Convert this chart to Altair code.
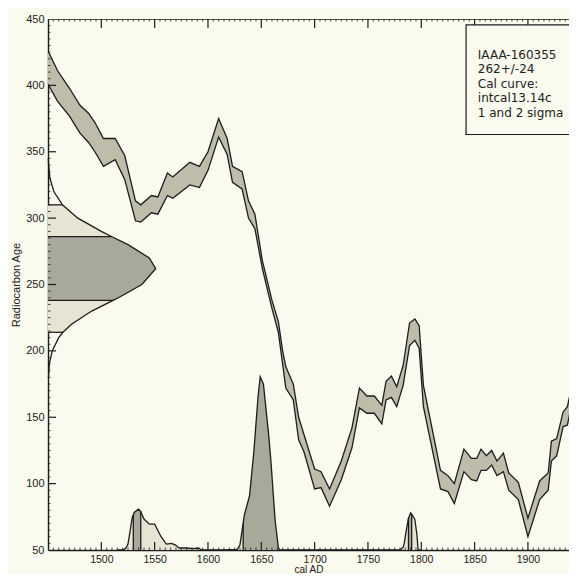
import altair as alt
import pandas as pd

# ---- calibration curve (intcal13 band) ----
cal_year  = [1450,1459,1470,1480,1488,1494,1502,1513,1522,1532,1537,1547,1553,1562,1567,1583,1592,1600,1610,1618,
             1623,1632,1638,1644,1651,1660,1666,1670,1673,1680,1685,1690,1700,1706,1714,1725,1735,1742,1749,1756,
             1763,1767,1772,1777,1783,1789,1794,1798,1802,1818,1825,1831,1840,1847,1852,1856,1861,1866,1871,1877,
             1882,1891,1900,1911,1919,1922,1927,1933,1937,1946]
cal_upper = [426,411,398,385,379,372,360,360,347,313,310,317,316,334,331,342,339,350,375,360,
             339,335,313,303,268,238,222,200,188,175,150,137,111,109,96,117,142,172,166,166,
             159,177,181,173,189,221,224,219,174,110,106,100,126,119,119,126,121,125,117,123,
             108,101,74,102,108,132,134,154,158,192]
cal_lower = [401,388,377,364,357,350,339,344,329,298,297,304,303,317,315,325,323,336,361,348,
             327,322,300,292,262,232,214,190,172,163,133,124,96,97,83,103,127,157,153,153,
             145,163,165,158,174,204,208,202,158,96,94,85,109,103,102,110,110,114,106,109,
             95,88,60,88,95,117,121,143,144,180]

g_age   = [345, 340, 330, 320, 310, 300, 290, 286, 280, 270, 262, 250, 240, 238, 230, 220, 214, 210, 200, 190, 180]
g_width = [0.3, 0.6, 1.8, 5.5, 13.5, 28, 50, 60, 75, 95, 101, 88, 66, 61, 41, 22, 14, 10, 4, 1.2, 0.4]
sig1_age = [238, 286]
sig2_age = [214, 310]

# ---- calibrated date probability ----
p_year = [1515,1521,1523,1525,1529,1530,1531,1535,1537,1540,1545,1550,1556,1561,1566,1570,1572,1573,1580,1586,
          1591,1594,1617,1627,1628,1630,1633,1634,1639,1643,1647,1649,1652,1657,1659,1663,1666,1667,1780,1783,
          1784,1786,1788,1790,1791,1794,1796,1797,1800]
p_top  = [50,50.3,51.5,54.5,74.6,76.5,78.5,80.8,79,73.3,69.5,69.5,60,54.5,55,53.5,52,51.5,51.5,51,
          51.5,50,50,50.5,51,54,70,76,91,124,166,180.5,175,136,117,72,52,50,50,52,
          55,65,74,78,77,73,61,50,50]
one_sigma = [(1530, 1537), (1633, 1667), (1788, 1791)]
two_sigma = [(1523, 1572), (1628, 1667), (1784, 1797)]

x_ticks = [1500, 1550, 1600, 1650, 1700, 1750, 1800, 1850, 1900]
y_ticks = [50, 100, 150, 200, 250, 300, 350, 400, 450]
info_lines = ["IAAA-160355", "262+/-24", "Cal curve:", "intcal13.14c", "1 and 2 sigma"]

W, H = 521, 531
X0, X1 = 1450, 1450 + W / 1.0665
Y0, Y1 = 50, 450
INK = "#1c1c1c"
BG = "#fbfaee"
FONT = "Liberation Sans"

xs = alt.Scale(domain=[X0, X1], nice=False, zero=False)
ys = alt.Scale(domain=[Y0, Y1], nice=False, zero=False)
xax = alt.Axis(values=x_ticks, format="d", title="cal AD", ticks=False, grid=False,
               labelPadding=4, titlePadding=0, domainColor=INK, domainWidth=1.4,
               labelFont=FONT, labelFontSize=10.5, labelColor="#222",
               titleFont=FONT, titleFontSize=10, titleFontWeight="normal", titleColor="#222")
yax = alt.Axis(values=y_ticks, format="d", title="Radiocarbon Age", ticks=False, grid=False,
               labelPadding=4, titlePadding=4, domainColor=INK, domainWidth=1.4,
               labelFont=FONT, labelFontSize=11, labelColor="#222",
               titleFont=FONT, titleFontSize=11, titleFontWeight="normal", titleColor="#222")


def X(f="year"):
    return alt.X(f"{f}:Q", scale=xs, axis=xax)


def Y(f="age"):
    return alt.Y(f"{f}:Q", scale=ys, axis=yax)


# calibration band
cal = pd.DataFrame({"year": cal_year, "age": cal_lower, "age2": cal_upper})
band = alt.Chart(cal).mark_area(color="#bebdac", opacity=1, clip=True).encode(x=X(), y=Y(), y2="age2:Q")
up_line = alt.Chart(cal).mark_line(color=INK, strokeWidth=1.3, clip=True).encode(x=X(), y=Y("age2"))
lo_line = alt.Chart(cal).mark_line(color=INK, strokeWidth=1.3, clip=True).encode(x=X(), y=Y())

# measured gaussian on the left
g = pd.DataFrame({"age": g_age, "year": [X0 + w for w in g_width]})
g2 = g[(g.age >= sig2_age[0]) & (g.age <= sig2_age[1])]
g1 = g[(g.age >= sig1_age[0]) & (g.age <= sig1_age[1])]
g_light = alt.Chart(g2).mark_area(orient="horizontal", color="#e8e4d4").encode(
    y=Y(), x=X(), x2=alt.datum(X0))
g_dark = alt.Chart(g1).mark_area(orient="horizontal", color="#a9a99b").encode(
    y=Y(), x=X(), x2=alt.datum(X0))
g_line = alt.Chart(g).mark_line(color=INK, strokeWidth=1.3).encode(
    y=Y(), x=X(), order=alt.Order("age:Q"))
gb = g[g.age.isin(sig1_age + sig2_age)].copy()
gb["x0"] = X0
g_rules = alt.Chart(gb).mark_rule(color=INK, strokeWidth=1.3).encode(
    y=Y(), x=X("x0"), x2="year:Q")

# calibrated probability at bottom
p = pd.DataFrame({"year": p_year, "age": p_top})


def segs(ranges):
    parts = []
    for i, (a, b) in enumerate(ranges):
        s = p[(p.year >= a) & (p.year <= b)].copy()
        s["seg"] = i
        parts.append(s)
    return pd.concat(parts)


p2 = segs(two_sigma)
p1 = segs(one_sigma)
p_light = alt.Chart(p2).mark_area(color="#e8e4d4").encode(
    x=X(), y=Y(), y2=alt.datum(Y0), detail="seg:N")
p_dark = alt.Chart(p1).mark_area(color="#a9a99b").encode(
    x=X(), y=Y(), y2=alt.datum(Y0), detail="seg:N")
p_line = alt.Chart(p).mark_line(color=INK, strokeWidth=1.3).encode(x=X(), y=Y())
bounds = [v for r in one_sigma for v in r]
pb = p[p.year.isin(bounds)].copy()
pb["base"] = Y0
p_rules = alt.Chart(pb).mark_rule(color=INK, strokeWidth=1.3).encode(
    x=X(), y=Y("base"), y2="age:Q")

# frame line on top
top = pd.DataFrame({"year": [X0], "year2": [X1 + 10], "age": [Y1]})
top_line = alt.Chart(top).mark_rule(color=INK, strokeWidth=1.4, clip=True).encode(
    x=X(), x2="year2:Q", y=Y())

# inward ticks
bx_major = pd.DataFrame({"year": x_ticks})
bx_minor = pd.DataFrame({"year": [v for v in range(1455, int(X1), 5) if v % 50 != 0]})
ly_major = pd.DataFrame({"age": y_ticks[1:-1]})
ly_minor = pd.DataFrame({"age": [v for v in range(55, 450, 5) if v % 50 != 0]})
tk = dict(color=INK, strokeWidth=1.2)
t1 = alt.Chart(bx_major).mark_rule(**tk).encode(x=X(), y=alt.value(H), y2=alt.value(H - 8))
t2 = alt.Chart(bx_minor).mark_rule(color=INK, strokeWidth=0.8).encode(x=X(), y=alt.value(H), y2=alt.value(H - 2.5))
t3 = alt.Chart(bx_major).mark_rule(**tk).encode(x=X(), y=alt.value(0), y2=alt.value(9))
t4 = alt.Chart(bx_minor).mark_rule(color=INK, strokeWidth=0.8).encode(x=X(), y=alt.value(0), y2=alt.value(2.5))
t5 = alt.Chart(ly_major).mark_rule(**tk).encode(y=Y(), x=alt.value(0), x2=alt.value(8))
t6 = alt.Chart(ly_minor).mark_rule(color=INK, strokeWidth=0.8).encode(y=Y(), x=alt.value(0), x2=alt.value(2.5))

# info box
box = pd.DataFrame({"year": [1842], "year2": [X1 + 20], "age": [363], "age2": [445.5]})
info_box = alt.Chart(box).mark_rect(fill=BG, stroke=INK, strokeWidth=1.2, clip=True).encode(
    x=X(), x2="year2:Q", y=Y(), y2="age2:Q")
info = pd.DataFrame({"year": [1853] * len(info_lines),
                     "age": [423 - 10.9 * i for i in range(len(info_lines))],
                     "label": info_lines})
info_text = alt.Chart(info).mark_text(align="left", baseline="middle", font="DejaVu Sans",
                                      fontSize=12, color="#222").encode(
    x=X(), y=Y(), text="label:N")

chart = alt.layer(
    band, up_line, lo_line,
    g_light, g_dark, g_rules, g_line,
    p_light, p_dark, p_rules, p_line,
    top_line, t1, t2, t3, t4, t5, t6,
    info_box, info_text,
).properties(
    width=W, height=H,
    autosize=alt.AutoSizeParams(type="none"),
    padding={"left": 40, "top": 11, "right": 0, "bottom": 24},
    background=BG,
).configure_view(stroke=None)

chart.save("out.html", embed_options={"renderer": "svg", "actions": False})
